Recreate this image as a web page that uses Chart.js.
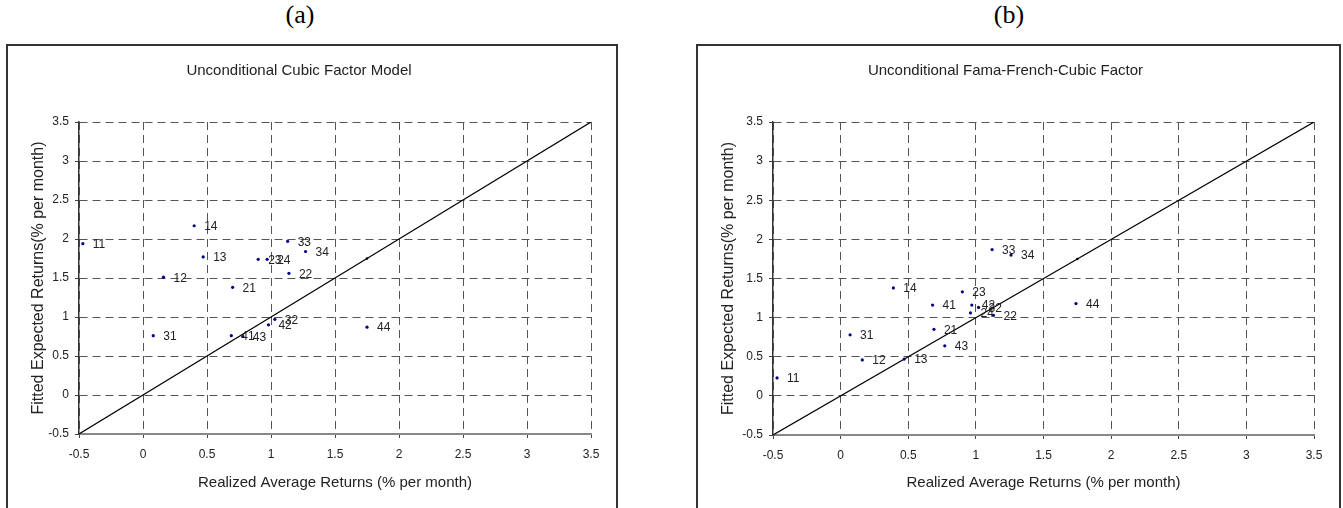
<!DOCTYPE html>
<html><head><meta charset="utf-8">
<script src="https://cdn.jsdelivr.net/npm/chart.js@4.4.1/dist/chart.umd.min.js"></script>
<style>
html,body{margin:0;padding:0;background:#fff;width:1343px;height:508px;overflow:hidden;}
.cap{position:absolute;top:0px;font-family:"Liberation Serif","Times New Roman",serif;font-size:26px;color:#000;transform:translateX(-50%);line-height:30px;}
.box{position:absolute;border:2px solid #333;box-sizing:border-box;}
canvas{position:absolute;}
</style></head><body>
<div class="cap" style="left:300px">(a)</div>
<div class="cap" style="left:1009px">(b)</div>
<div class="box" style="left:6px;top:44px;width:612px;height:480px;"></div>
<div class="box" style="left:696px;top:44px;width:645px;height:480px;"></div>
<div style="position:absolute;left:7px;top:45px;width:609px;height:463px;"><canvas id="cA"></canvas></div>
<div style="position:absolute;left:697px;top:45px;width:642px;height:463px;"><canvas id="cB"></canvas></div>
<script>
// Portfolio labels
const portfolios = ['11','12','13','14','21','22','23','24','31','32','33','34','41','42','43','44'];
// (a) Unconditional Cubic Factor Model
const aRealized = [-0.47, 0.16, 0.47, 0.40, 0.70, 1.14, 0.90, 0.97, 0.08, 1.03, 1.13, 1.27, 0.69, 0.98, 0.78, 1.75];
const aFitted   = [ 1.94, 1.51, 1.77, 2.17, 1.38, 1.56, 1.74, 1.74, 0.76, 0.97, 1.97, 1.84, 0.76, 0.90, 0.75, 0.87];
// (b) Unconditional Fama-French-Cubic Factor
const bRealized = [-0.47, 0.16, 0.47, 0.39, 0.69, 1.13, 0.90, 0.96, 0.07, 1.02, 1.12, 1.26, 0.68, 0.97, 0.77, 1.74];
const bFitted   = [ 0.23, 0.46, 0.47, 1.38, 0.85, 1.03, 1.33, 1.06, 0.78, 1.13, 1.87, 1.80, 1.16, 1.16, 0.64, 1.18];
// 45-degree reference line
const diagX = [-0.5, 1.75, 3.5];
const diagY = [-0.5, 1.75, 3.5];
// Tick values (both axes)
const tickValues = [-0.5, 0, 0.5, 1, 1.5, 2, 2.5, 3, 3.5];
const tickLabels = ['-0.5','0','0.5','1','1.5','2','2.5','3','3.5'];

const FONT = '"Liberation Sans", Arial, sans-serif';

const labelPlugin = {
  id: 'ptLabels',
  afterDatasetsDraw(chart) {
    const ds = chart.data.datasets[1];
    const meta = chart.getDatasetMeta(1);
    const ctx = chart.ctx;
    ctx.save();
    ctx.font = '12px ' + FONT;
    ctx.fillStyle = '#222';
    ctx.textBaseline = 'middle';
    ctx.textAlign = 'left';
    meta.data.forEach((el, i) => { ctx.fillText(ds.ptLabels[i], el.x + 10, el.y + 1); });
    ctx.restore();
  }
};

function axis(isX, fitSize) {
  return {
    type: 'linear', min: -0.5, max: 3.5,
    afterBuildTicks: s => { s.ticks = tickValues.map(v => ({ value: v })); },
    afterFit: s => { if (isX) s.height = fitSize; else s.width = fitSize; },
    ticks: {
      callback: (v) => tickLabels[tickValues.indexOf(v)],
      color: '#222', font: { family: FONT, size: 12 },
      padding: isX ? 9 : 6, maxRotation: 0, autoSkip: false
    },
    grid: { color: '#555', lineWidth: 1, tickLength: 4, tickColor: '#444', tickWidth: 1, tickBorderDash: [] },
    border: isX ? { color: '#888', width: 2, dash: [8, 5] } : { color: '#333', width: 1.5, dash: [8, 5] },
    title: {
      display: true,
      text: isX ? 'Realized Average Returns (% per month)' : 'Fitted Expected Returns(% per month)',
      color: '#222', font: { family: FONT, size: isX ? 15 : 16 },
      padding: isX ? { top: 0, bottom: 16 } : { top: 22, bottom: 0 }
    }
  };
}

function make(id, title, xs, ys, yWidth, xHeight) {
  const pts = xs.map((x, i) => ({ x: x, y: ys[i] }));
  const diag = diagX.map((x, i) => ({ x: x, y: diagY[i] }));
  new Chart(document.getElementById(id), {
    type: 'scatter',
    data: { datasets: [
      { type: 'line', data: diag, borderColor: '#000', borderWidth: 1.2, pointRadius: [0, 1.3, 0], pointBackgroundColor: '#000', pointBorderWidth: 0, fill: false, order: 2 },
      { data: pts, ptLabels: portfolios, pointRadius: 1.6, pointBackgroundColor: '#000080', pointBorderColor: '#000080', pointBorderWidth: 0, order: 1 }
    ]},
    options: {
      responsive: true, maintainAspectRatio: false, animation: false,
      devicePixelRatio: 1,
      layout: { padding: { left: 0, right: 25, top: 0, bottom: 0 } },
      plugins: {
        legend: { display: false }, tooltip: { enabled: false },
        title: { display: true, text: title, color: '#222', font: { family: FONT, size: 15, weight: 'normal' }, padding: { top: 17, bottom: 42 } }
      },
      scales: { x: axis(true, xHeight), y: axis(false, yWidth) }
    },
    plugins: [labelPlugin]
  });
}
make('cA', 'Unconditional Cubic Factor Model', aRealized, aFitted, 72, 74);
make('cB', 'Unconditional Fama-French-Cubic Factor', bRealized, bFitted, 76, 73);
</script>
</body></html>
